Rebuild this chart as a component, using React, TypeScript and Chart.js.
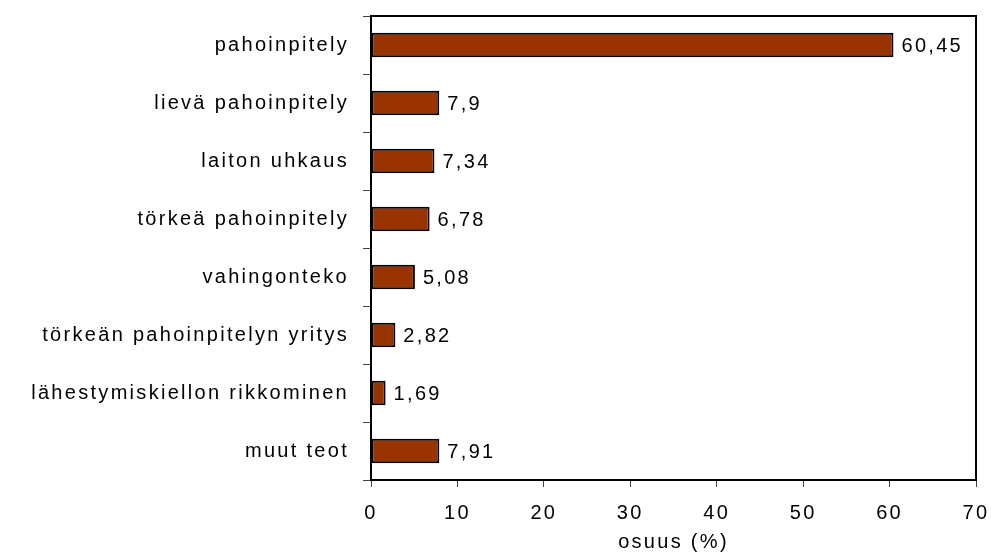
import React, { useEffect, useRef } from "react";
import { Chart, registerables } from "chart.js";

Chart.register(...registerables);

const categories = [
  "pahoinpitely",
  "lievä pahoinpitely",
  "laiton uhkaus",
  "törkeä pahoinpitely",
  "vahingonteko",
  "törkeän pahoinpitelyn yritys",
  "lähestymiskiellon rikkominen",
  "muut teot",
];
const shares = [60.45, 7.9, 7.34, 6.78, 5.08, 2.82, 1.69, 7.91];
const xTicks = [0, 10, 20, 30, 40, 50, 60, 70];
const xTitle = "osuus (%)";

const FONT = "'Liberation Sans', Arial, sans-serif";
const SIZE = 20;
const SPACING = "2.3px";

const spacingPlugin = {
  id: "spacing",
  beforeUpdate(chart: any) {
    chart.ctx.letterSpacing = SPACING;
  },
  beforeDraw(chart: any) {
    chart.ctx.letterSpacing = SPACING;
  },
};

const framePlugin = {
  id: "frame",
  afterDatasetsDraw(chart: any) {
    const { ctx, chartArea } = chart;
    ctx.save();
    ctx.strokeStyle = "#000";
    ctx.lineWidth = 2;
    ctx.strokeRect(chartArea.left, chartArea.top, chartArea.right - chartArea.left, chartArea.bottom - chartArea.top);
    ctx.restore();
  },
};

const labelPlugin = {
  id: "valueLabels",
  afterDatasetsDraw(chart: any) {
    const { ctx } = chart;
    const meta = chart.getDatasetMeta(0);
    ctx.save();
    ctx.letterSpacing = SPACING;
    ctx.font = SIZE + "px " + FONT;
    ctx.fillStyle = "#000";
    ctx.textAlign = "left";
    ctx.textBaseline = "middle";
    meta.data.forEach((bar: any, i: number) => {
      const txt = String(shares[i]).replace(".", ",");
      ctx.fillText(txt, bar.x + 8, bar.y + 1);
    });
    ctx.restore();
  },
};

export default function App() {
  const ref = useRef<HTMLCanvasElement | null>(null);
  useEffect(() => {
    if (!ref.current) return;
    const chart = new Chart(ref.current, {
      type: "bar",
      data: {
        labels: categories,
        datasets: [
          {
            data: shares,
            backgroundColor: "#993300",
            borderColor: "#000",
            borderWidth: 2,
            borderSkipped: false,
            barPercentage: 0.42,
            categoryPercentage: 1,
          },
        ],
      },
      options: {
        indexAxis: "y",
        animation: false,
        responsive: false,
        maintainAspectRatio: false,
        layout: { padding: { top: 16, right: 15, left: 0, bottom: 0 } },
        plugins: { legend: { display: false }, tooltip: { enabled: false } },
        scales: {
          x: {
            min: 0,
            max: 70,
            afterBuildTicks(scale: any) {
              scale.ticks = xTicks.map((v) => ({ value: v }));
            },
            afterFit(scale: any) {
              scale.height = 74;
              scale.paddingLeft = 0;
              scale.paddingRight = 0;
            },
            grid: {
              drawOnChartArea: false,
              drawTicks: true,
              tickLength: 7,
              tickColor: "#444",
              color: "#444",
            },
            border: { display: true, color: "#000", width: 2 },
            ticks: {
              color: "#000",
              font: { family: FONT, size: SIZE },
              padding: 14,
              maxRotation: 0,
            },
            title: {
              display: true,
              text: xTitle,
              color: "#000",
              font: { family: FONT, size: SIZE },
              padding: { top: 1, bottom: 0 },
            },
          },
          y: {
            afterFit(scale: any) {
              scale.width = 371;
              scale.paddingTop = 0;
              scale.paddingBottom = 0;
            },
            grid: {
              offset: true,
              drawOnChartArea: false,
              drawTicks: true,
              tickLength: 8,
              tickColor: "#444",
              color: "#444",
            },
            border: { display: true, color: "#000", width: 2 },
            ticks: {
              color: "#000",
              font: { family: FONT, size: SIZE },
              padding: 14,
            },
          },
        },
      },
      plugins: [spacingPlugin, framePlugin, labelPlugin],
    });
    return () => chart.destroy();
  }, []);
  return (
    <div style={{ position: "fixed", left: 0, top: 0, width: 991, height: 554, background: "#fff" }}>
      <canvas ref={ref} width={991} height={554} style={{ width: 991, height: 554 }} />
    </div>
  );
}
